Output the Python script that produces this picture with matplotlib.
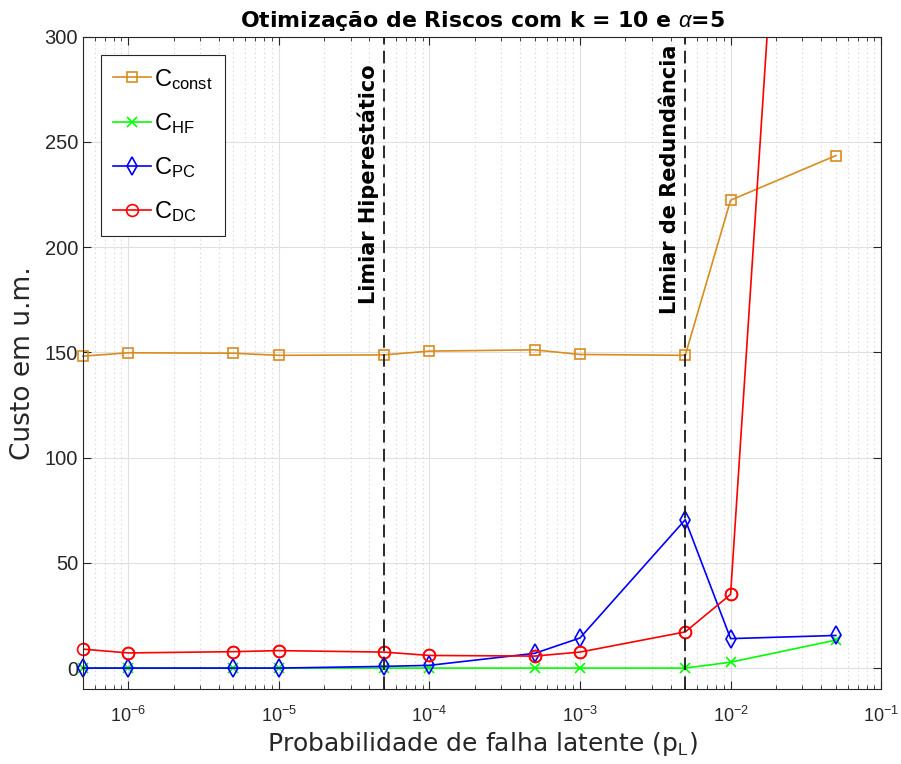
import numpy as np
import matplotlib.pyplot as plt
from matplotlib.ticker import LogLocator, NullFormatter

bool_save = 1

# %% data
p_L = [5e-7, 1e-6, 5e-6, 1e-5, 5e-5, 1e-4, 5e-4, 1e-3, 5e-3, 1e-2, 5e-2]
C_const = [148.2, 149.8, 149.6, 148.6, 148.8, 150.6, 151.2, 149.0, 148.6, 222.3, 243.5]
C_HF = [0.0, 0.0, 0.0, 0.0, 0.0, 0.0, 0.0, 0.0, 0.0, 2.8, 13.3]
C_PC = [0.0, 0.0, 0.0, 0.0, 0.8, 1.3, 7.0, 14.3, 70.5, 14.0, 15.5]
C_DC = [9.0, 7.2, 7.8, 8.3, 7.6, 6.0, 5.7, 7.6, 17.2, 35.0, 800.0]

limiares = [5e-5, 5e-3]
limiar_txt = ['Limiar Hiperestático', 'Limiar de Redundância']
limiar_topo = [287, 296]

# %% plot
plt.rcParams['font.family'] = ['Liberation Sans', 'DejaVu Sans']
plt.rcParams['mathtext.fontset'] = 'custom'
plt.rcParams['mathtext.rm'] = 'Liberation Sans'
plt.rcParams['mathtext.it'] = 'Liberation Sans:italic'

fig = plt.figure(figsize=(9.01, 7.64), dpi=100)
ax = fig.add_axes([0.092, 0.098, 0.886, 0.854])

orange = (0.85, 0.55, 0.12)
ax.plot(p_L, C_const, '-s', color=orange, mfc='none', ms=7, lw=1.2, mew=1.2,
        label=r'C$_{\mathrm{const}}$', clip_on=False)
ax.plot(p_L, C_HF, '-x', color=(0, 1, 0), ms=6.5, lw=1.2, mew=1.2,
        label=r'C$_{\mathrm{HF}}$', clip_on=False)
ax.plot(p_L, C_PC, '-d', color=(0, 0, 1), mfc='none', ms=9, lw=1.2, mew=1.2,
        label=r'C$_{\mathrm{PC}}$', clip_on=False)
ax.plot(p_L, C_DC, '-o', color=(1, 0, 0), mfc='none', ms=8.5, lw=1.2, mew=1.2,
        label=r'C$_{\mathrm{DC}}$')
# marcadores visiveis na borda esquerda
ax.plot(p_L, np.ma.masked_greater(C_DC, 300), 'o', color=(1, 0, 0), mfc='none',
        ms=8.5, mew=1.2, clip_on=False)

for xv, txt, yt in zip(limiares, limiar_txt, limiar_topo):
    ax.axvline(xv, color=(0.1, 0.1, 0.1), ls=(0, (7, 3.5)), lw=1.3)
    ax.text(xv / 1.08, yt, txt, rotation=90, ha='right', va='top',
            fontsize=15, fontweight='bold', family=['DejaVu Sans'])

ax.set_xscale('log')
ax.set_xlim(5e-7, 1e-1)
ax.set_ylim(-10, 300)
ax.set_yticks(np.arange(0, 301, 50))
ax.xaxis.set_major_locator(LogLocator(base=10, numticks=20))
ax.xaxis.set_minor_locator(LogLocator(base=10, subs=np.arange(2, 10), numticks=20))
ax.xaxis.set_minor_formatter(NullFormatter())

ax.grid(True, which='major', color=(0.88, 0.88, 0.88), lw=0.8)
ax.grid(True, which='minor', axis='x', color=(0.82, 0.82, 0.82), ls=(0, (1, 3)), lw=0.8)
ax.set_axisbelow(True)
ax.tick_params(which='both', direction='in', top=True, right=True,
               colors=(0.15, 0.15, 0.15))
ax.tick_params(axis='x', labelsize=13, pad=12)
ax.tick_params(axis='y', labelsize=14.5)
ax.tick_params(which='major', length=6)
ax.tick_params(which='minor', length=3)
for s in ax.spines.values():
    s.set_color((0.15, 0.15, 0.15))
    s.set_linewidth(0.8)

ax.set_xlabel(r'Probabilidade de falha latente (p$_{\mathrm{L}}$)', fontsize=18,
              family=['DejaVu Sans'], color=(0.15, 0.15, 0.15), labelpad=3)
ax.set_ylabel('Custo em u.m.', fontsize=19, family=['DejaVu Sans'],
              color=(0.15, 0.15, 0.15), labelpad=6)
ax.set_title(r'Otimização de Riscos com k = 10 e $\alpha$=5', fontsize=15.8,
             fontweight='bold', family=['DejaVu Sans'], pad=7)

leg = ax.legend(loc='upper left', bbox_to_anchor=(0.0226, 0.972), borderaxespad=0,
                fontsize=17, fancybox=False, edgecolor=(0.15, 0.15, 0.15),
                framealpha=1, handlelength=1.6, labelspacing=0.82, borderpad=0.5,
                handletextpad=0.15)
leg.get_frame().set_linewidth(0.8)

if bool_save: plt.savefig('out.png', dpi=100)
